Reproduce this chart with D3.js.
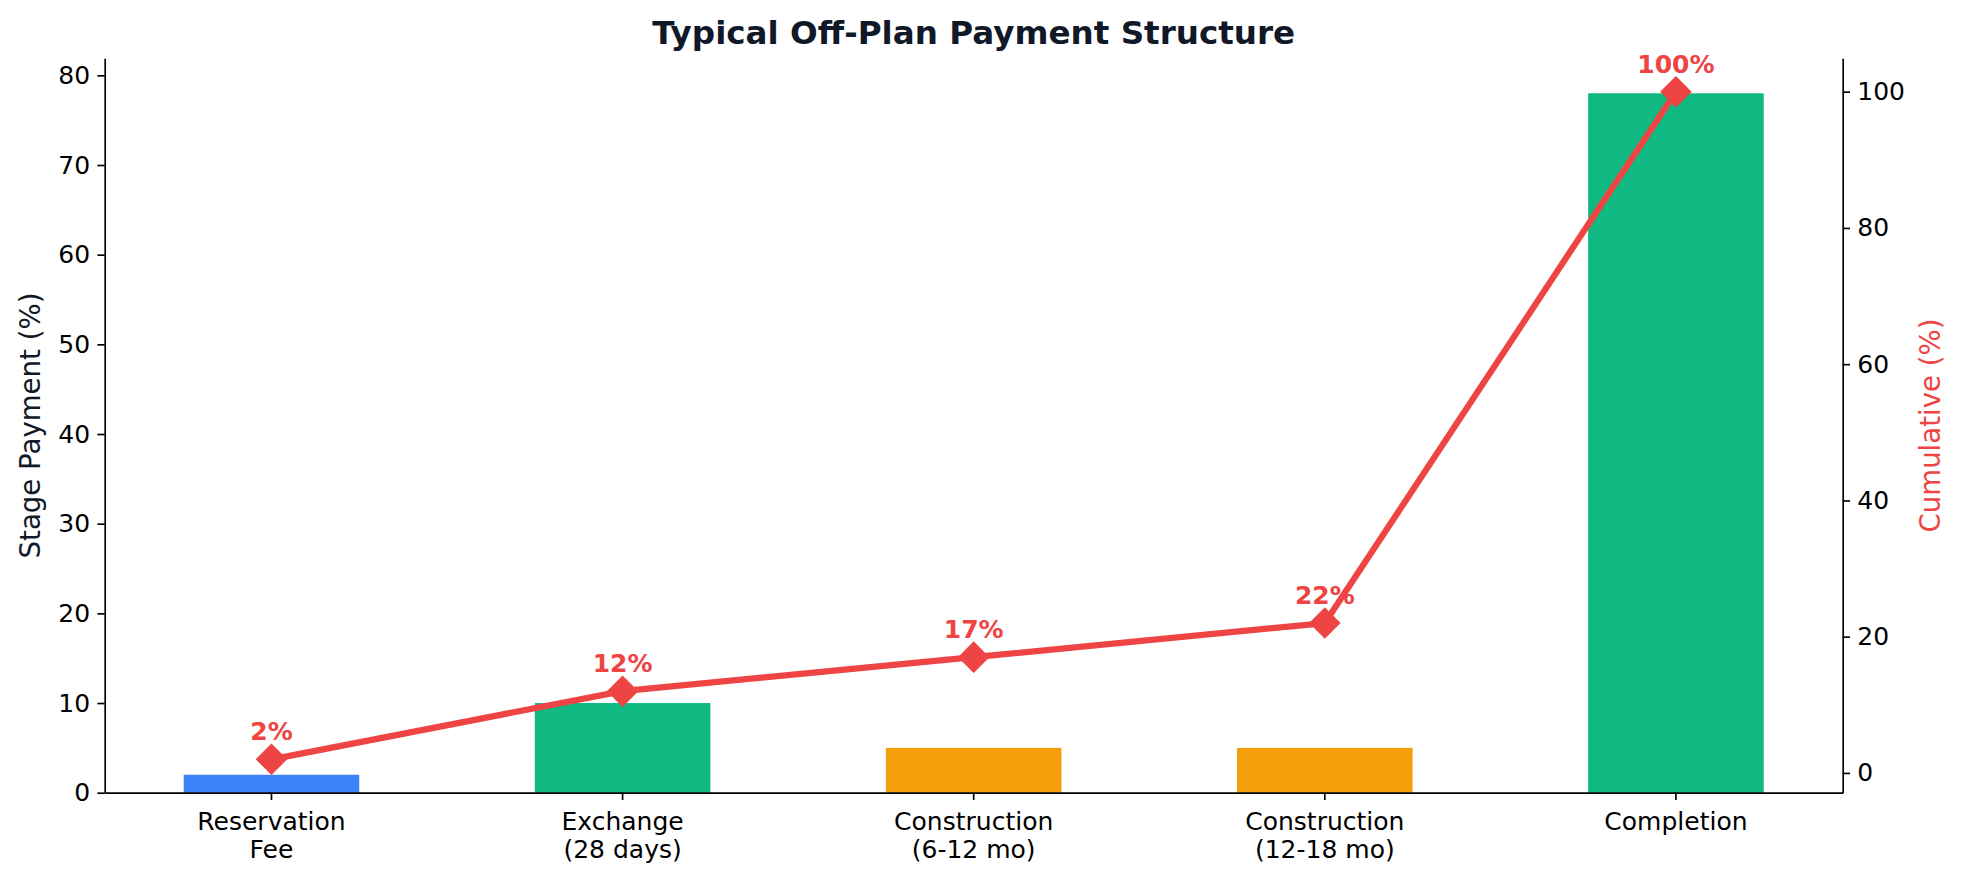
<!DOCTYPE html>
<html>
<head>
<meta charset="utf-8">
<script src="https://cdn.jsdelivr.net/npm/d3@7"></script>
<style>
  body { margin: 0; background: #fff; }
  #chart { width: 1964px; height: 880px; }
  text { font-family: "DejaVu Sans", sans-serif; }
</style>
</head>
<body>
<div id="chart"></div>
<script>
const stages = ["Reservation\nFee", "Exchange\n(28 days)", "Construction\n(6-12 mo)", "Construction\n(12-18 mo)", "Completion"];
const stagePayments = [2, 10, 5, 5, 78];
const cumulative = [2, 12, 17, 22, 100];
const barColors = ["#3b82f6", "#10b981", "#f59e0b", "#f59e0b", "#10b981"];
const leftTicks = [0, 10, 20, 30, 40, 50, 60, 70, 80];
const rightTicks = [0, 20, 40, 60, 80, 100];

const W = 1964, H = 880;
const margin = {top: 58.3, right: W - 1842.7, bottom: H - 792.7, left: 104.7};
const width = W - margin.left - margin.right;
const height = H - margin.top - margin.bottom;

const lineColor = "#ef4444";
const tickLen = 7.3, tickPad = 7.3, axisW = 1.67;
const tickFont = "25px";

const data = stages.map((s, i) => ({stage: s, pay: stagePayments[i], cum: cumulative[i], color: barColors[i]}));

const svg = d3.select("#chart").append("svg")
    .attr("width", W)
    .attr("height", H)
    .append("g")
    .attr("transform", `translate(${margin.left}, ${margin.top})`);

const x = d3.scaleBand()
    .domain(stages)
    .range([0, width])
    .paddingInner(0.5)
    .paddingOuter(0.225);

// matplotlib-style auto limits (5% margins)
const yBars = d3.scaleLinear()
    .domain([0, d3.max(stagePayments) * 1.05])
    .range([height, 0]);

const cMin = d3.min(cumulative), cMax = d3.max(cumulative);
const cPad = (cMax - cMin) * 0.05;
const yLine = d3.scaleLinear()
    .domain([cMin - cPad, cMax + cPad])
    .range([height, 0]);

// bars
svg.selectAll(".bar")
    .data(data)
    .enter()
    .append("rect")
    .attr("class", "bar")
    .attr("x", d => x(d.stage))
    .attr("y", d => yBars(d.pay))
    .attr("width", x.bandwidth())
    .attr("height", d => height - yBars(d.pay))
    .attr("fill", d => d.color);

// axes
function styleAxis(g) {
    g.selectAll("path.domain").attr("stroke", "#000").attr("stroke-width", axisW);
    g.selectAll(".tick line").attr("stroke", "#000").attr("stroke-width", axisW);
    g.selectAll(".tick text").attr("fill", "#000").style("font-size", tickFont)
        .style("font-family", "DejaVu Sans");
}

svg.append("g")
    .attr("class", "axis axis-y-bars")
    .call(d3.axisLeft(yBars).tickValues(leftTicks).tickSize(tickLen).tickSizeOuter(0).tickPadding(tickPad))
    .call(styleAxis);

svg.append("g")
    .attr("class", "axis axis-y-line")
    .attr("transform", `translate(${width}, 0)`)
    .call(d3.axisRight(yLine).tickValues(rightTicks).tickSize(tickLen).tickSizeOuter(0).tickPadding(tickPad))
    .call(styleAxis);

const xAxis = svg.append("g")
    .attr("class", "axis axis-x")
    .attr("transform", `translate(0, ${height})`)
    .call(d3.axisBottom(x).tickSize(tickLen).tickSizeOuter(0).tickPadding(tickPad))
    .call(styleAxis);

xAxis.selectAll(".tick text").each(function(d) {
    const t = d3.select(this);
    const lines = d.split("\n");
    t.text(null).attr("dy", null).attr("y", 0);
    lines.forEach((ln, i) => {
        t.append("tspan")
            .attr("x", 0)
            .attr("y", 37 + i * 28.5)
            .text(ln);
    });
});

// cumulative line
const line = d3.line()
    .x(d => x(d.stage) + x.bandwidth() / 2)
    .y(d => yLine(d.cum));

svg.append("path")
    .datum(data)
    .attr("class", "line")
    .attr("d", line)
    .attr("fill", "none")
    .attr("stroke", lineColor)
    .attr("stroke-width", 6.25)
    .attr("stroke-linejoin", "round")
    .attr("stroke-linecap", "butt");

const diamond = d3.symbol().type(d3.symbolSquare).size(20.8 * 20.8);

svg.selectAll(".dot")
    .data(data)
    .enter()
    .append("path")
    .attr("class", "dot")
    .attr("d", diamond)
    .attr("transform", d => `translate(${x(d.stage) + x.bandwidth() / 2}, ${yLine(d.cum)}) rotate(45)`)
    .attr("fill", lineColor)
    .attr("stroke", lineColor)
    .attr("stroke-width", 1.5);

svg.selectAll(".cum-label")
    .data(data)
    .enter()
    .append("text")
    .attr("class", "cum-label")
    .attr("x", d => x(d.stage) + x.bandwidth() / 2)
    .attr("y", d => yLine(d.cum) - 19)
    .attr("text-anchor", "middle")
    .attr("fill", lineColor)
    .style("font-size", "25px")
    .style("font-weight", "bold")
    .text(d => `${d.cum}%`);

// title and axis labels
svg.append("text")
    .attr("x", width / 2)
    .attr("y", 44 - margin.top)
    .attr("text-anchor", "middle")
    .attr("fill", "#111827")
    .style("font-size", "32.6px")
    .style("font-weight", "bold")
    .text("Typical Off-Plan Payment Structure");

svg.append("text")
    .attr("transform", "rotate(-90)")
    .attr("x", -height / 2)
    .attr("y", 29.5 - margin.left + 10)
    .attr("text-anchor", "middle")
    .attr("fill", "#111827")
    .style("font-size", "27.6px")
    .text("Stage Payment (%)");

svg.append("text")
    .attr("transform", "rotate(-90)")
    .attr("x", -height / 2)
    .attr("y", 1930.5 - margin.left + 10)
    .attr("text-anchor", "middle")
    .attr("fill", lineColor)
    .style("font-size", "27.6px")
    .text("Cumulative (%)");
</script>
</body>
</html>
